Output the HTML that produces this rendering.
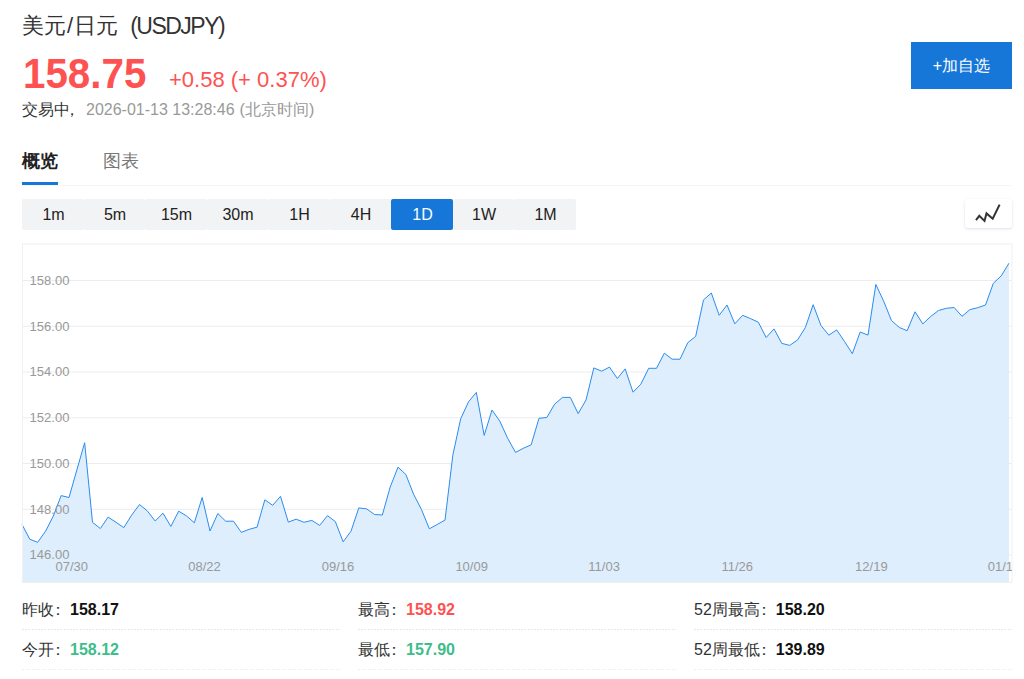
<!DOCTYPE html>
<html><head><meta charset="utf-8">
<style>
*{margin:0;padding:0;box-sizing:border-box}
html,body{width:1024px;height:679px;overflow:hidden;background:#fff}
body{font-family:"Liberation Sans",sans-serif;color:#333;position:relative}
.abs{position:absolute;white-space:nowrap}
#title{left:22px;top:9px;font-size:22px;color:#333;line-height:32px}
#title span{font-size:23px;letter-spacing:-1.5px;margin-left:12px;position:relative;top:1px}
#price{left:23px;top:51px;font-size:42px;font-weight:bold;color:#fe5252;line-height:46px;transform:scaleX(.96);transform-origin:0 0}
#chg{left:169px;top:65px;font-size:22px;color:#fe5252;line-height:30px}
#time{left:22px;top:99px;font-size:16px;color:#999;line-height:22px}
#time b{font-weight:normal;color:#333}
#btn{left:911px;top:42px;width:101px;height:47px;background:#1677d8;color:#fff;font-size:16px;line-height:47px;text-align:center}
#tab1{left:22px;top:149px;font-size:18px;font-weight:bold;color:#222;line-height:24px}
#tab2{left:103px;top:149px;font-size:18px;color:#777;line-height:24px}
#tabline{left:22px;top:182px;width:36px;height:3px;background:#1677d8}
#sep{left:22px;top:185px;width:990px;height:1px;background:#f6f6f6}
#bar{left:22px;top:199px;width:554px;height:31px}
.tb{position:absolute;top:0;height:31px;line-height:31px;font-size:16px;color:#222;text-align:center;width:61.5px;text-indent:1.5px;background:#f2f3f5;border-radius:2px}
.tb.on{background:#1677d8;color:#fff}
#icon{left:965px;top:199px;width:47px;height:29px;background:#fff;border-radius:3px;box-shadow:0 1px 3px rgba(40,70,140,.16)}
.st{position:absolute;font-size:16px;color:#333;line-height:20px;white-space:nowrap}
.st b{font-weight:bold;color:#111}
.c{font-style:normal;position:relative;left:-4px}
.cm{font-style:normal;position:relative;left:-6px}
.dash{position:absolute;height:1px;background:repeating-linear-gradient(90deg,#e8e8e8 0,#e8e8e8 2px,transparent 2px,transparent 3.2px)}
.dash.l{background:repeating-linear-gradient(90deg,#f0f0f0 0,#f0f0f0 2px,transparent 2px,transparent 3.2px)}
</style></head><body>
<div id="title" class="abs">美元<i style="font-style:normal;margin:0 1px">/</i>日元<span>(USDJPY)</span></div>
<div id="price" class="abs">158.75</div>
<div id="chg" class="abs">+0.58 (+ 0.37%)</div>
<div id="time" class="abs"><b>交易中<i class="cm">，</i></b>2026-01-13 13:28:46<span style="margin-left:5px">(北京时间)</span></div>
<div id="btn" class="abs">+加自选</div>
<div id="tab1" class="abs">概览</div>
<div id="tab2" class="abs">图表</div>
<div id="tabline" class="abs"></div>
<div id="sep" class="abs"></div>
<div id="bar" class="abs">
<div class="tb" style="left:0">1m</div>
<div class="tb" style="left:61.5px">5m</div>
<div class="tb" style="left:123px">15m</div>
<div class="tb" style="left:184.5px">30m</div>
<div class="tb" style="left:246px">1H</div>
<div class="tb" style="left:307.5px">4H</div>
<div class="tb on" style="left:369px">1D</div>
<div class="tb" style="left:430.5px">1W</div>
<div class="tb" style="left:492px">1M</div>
</div>
<div id="icon" class="abs"><svg width="47" height="29" viewBox="0 0 47 29" style="position:absolute;left:0;top:0"><polyline points="11,21.2 14.3,16.8 19.5,21.9 21.5,14.4 27.7,19.7 34.6,5.6" fill="none" stroke="#333" stroke-width="2" stroke-linejoin="miter"/></svg></div>
<svg class="abs" style="left:0;top:0" width="1024" height="679" viewBox="0 0 1024 679">
<defs><clipPath id="cp"><rect x="22" y="244" width="990" height="338"/></clipPath></defs>
<line x1="22" x2="1012" y1="280.50" y2="280.50" stroke="#ececec" stroke-width="1"/><line x1="22" x2="1012" y1="326.25" y2="326.25" stroke="#ececec" stroke-width="1"/><line x1="22" x2="1012" y1="372.00" y2="372.00" stroke="#ececec" stroke-width="1"/><line x1="22" x2="1012" y1="417.75" y2="417.75" stroke="#ececec" stroke-width="1"/><line x1="22" x2="1012" y1="463.50" y2="463.50" stroke="#ececec" stroke-width="1"/><line x1="22" x2="1012" y1="509.25" y2="509.25" stroke="#ececec" stroke-width="1"/><line x1="22" x2="1012" y1="555.00" y2="555.00" stroke="#ececec" stroke-width="1"/>
<polygon points="22.00,524.40 29.83,539.30 37.67,542.30 45.50,531.30 53.33,516.00 61.17,495.60 69.00,497.50 76.83,470.00 84.67,442.70 92.50,522.30 100.33,528.50 108.17,517.10 116.00,522.30 123.83,527.60 131.67,515.10 139.50,504.50 147.33,510.90 155.17,521.00 163.00,513.20 170.83,526.40 178.67,511.20 186.50,515.90 194.33,522.80 202.17,497.50 210.00,531.00 217.83,513.50 225.67,521.20 233.50,521.20 241.33,532.40 249.17,529.30 257.00,527.20 264.83,499.80 272.67,505.30 280.50,496.30 288.33,522.10 296.17,519.20 304.00,522.30 311.83,520.40 319.67,525.40 327.50,515.70 335.33,521.60 343.17,541.80 351.00,531.20 358.83,507.90 366.67,508.90 374.50,514.50 382.33,515.00 390.17,487.10 398.00,467.20 405.83,474.50 413.67,494.40 421.50,509.60 429.33,528.80 437.17,524.50 445.00,520.10 452.83,455.20 460.67,418.90 468.50,401.80 476.33,392.40 484.17,435.40 492.00,410.00 499.83,421.20 507.67,438.30 515.50,452.40 523.33,448.30 531.17,444.80 539.00,418.30 546.83,417.50 554.67,404.10 562.50,397.40 570.33,397.40 578.17,413.60 586.00,400.00 593.83,367.90 601.67,371.20 609.50,367.10 617.33,378.50 625.17,368.90 633.00,392.20 640.83,384.20 648.67,368.30 656.50,368.30 664.33,353.20 672.17,359.20 680.00,359.20 687.83,342.60 695.67,336.40 703.50,299.90 711.33,293.00 719.17,315.30 727.00,305.00 734.83,323.80 742.67,315.30 750.50,318.60 758.33,322.20 766.17,337.50 774.00,328.90 781.83,343.40 789.67,345.40 797.50,340.00 805.33,327.60 813.17,304.70 821.00,325.60 828.83,335.20 836.67,329.90 844.50,341.50 852.33,353.70 860.17,332.00 868.00,335.10 875.83,284.40 883.67,301.20 891.50,320.60 899.33,327.50 907.17,330.70 915.00,311.80 922.83,323.90 930.67,316.50 938.50,310.50 946.33,308.30 954.17,307.50 962.00,316.30 969.83,309.70 977.67,307.70 985.50,305.00 993.33,283.30 1001.17,275.90 1009.00,263.20 1009.00,582 22.00,582" fill="#deeefd"/>
<polyline points="22.00,524.40 29.83,539.30 37.67,542.30 45.50,531.30 53.33,516.00 61.17,495.60 69.00,497.50 76.83,470.00 84.67,442.70 92.50,522.30 100.33,528.50 108.17,517.10 116.00,522.30 123.83,527.60 131.67,515.10 139.50,504.50 147.33,510.90 155.17,521.00 163.00,513.20 170.83,526.40 178.67,511.20 186.50,515.90 194.33,522.80 202.17,497.50 210.00,531.00 217.83,513.50 225.67,521.20 233.50,521.20 241.33,532.40 249.17,529.30 257.00,527.20 264.83,499.80 272.67,505.30 280.50,496.30 288.33,522.10 296.17,519.20 304.00,522.30 311.83,520.40 319.67,525.40 327.50,515.70 335.33,521.60 343.17,541.80 351.00,531.20 358.83,507.90 366.67,508.90 374.50,514.50 382.33,515.00 390.17,487.10 398.00,467.20 405.83,474.50 413.67,494.40 421.50,509.60 429.33,528.80 437.17,524.50 445.00,520.10 452.83,455.20 460.67,418.90 468.50,401.80 476.33,392.40 484.17,435.40 492.00,410.00 499.83,421.20 507.67,438.30 515.50,452.40 523.33,448.30 531.17,444.80 539.00,418.30 546.83,417.50 554.67,404.10 562.50,397.40 570.33,397.40 578.17,413.60 586.00,400.00 593.83,367.90 601.67,371.20 609.50,367.10 617.33,378.50 625.17,368.90 633.00,392.20 640.83,384.20 648.67,368.30 656.50,368.30 664.33,353.20 672.17,359.20 680.00,359.20 687.83,342.60 695.67,336.40 703.50,299.90 711.33,293.00 719.17,315.30 727.00,305.00 734.83,323.80 742.67,315.30 750.50,318.60 758.33,322.20 766.17,337.50 774.00,328.90 781.83,343.40 789.67,345.40 797.50,340.00 805.33,327.60 813.17,304.70 821.00,325.60 828.83,335.20 836.67,329.90 844.50,341.50 852.33,353.70 860.17,332.00 868.00,335.10 875.83,284.40 883.67,301.20 891.50,320.60 899.33,327.50 907.17,330.70 915.00,311.80 922.83,323.90 930.67,316.50 938.50,310.50 946.33,308.30 954.17,307.50 962.00,316.30 969.83,309.70 977.67,307.70 985.50,305.00 993.33,283.30 1001.17,275.90 1009.00,263.20" fill="none" stroke="#2b8cef" stroke-width="1" stroke-linejoin="miter"/>
<rect x="22.5" y="244" width="989.5" height="338.5" fill="none" stroke="#f0f0f0" stroke-width="1"/>
<g clip-path="url(#cp)" font-family="Liberation Sans" font-size="13" fill="#999"><text x="29.6" y="284.90">158.00</text><text x="29.6" y="330.65">156.00</text><text x="29.6" y="376.40">154.00</text><text x="29.6" y="422.15">152.00</text><text x="29.6" y="467.90">150.00</text><text x="29.6" y="513.65">148.00</text><text x="29.6" y="559.40">146.00</text><text x="55.5" y="571">07/30</text><text x="188.3" y="571">08/22</text><text x="321.8" y="571">09/16</text><text x="455.4" y="571">10/09</text><text x="588.3" y="571">11/03</text><text x="721.5" y="571">11/26</text><text x="855.1" y="571">12/19</text><text x="987.7" y="571">01/13</text></g>
</svg>
<div class="st" style="left:22px;top:600px">昨收<i class="c">：</i><b>158.17</b></div>
<div class="st" style="left:358px;top:600px">最高<i class="c">：</i><b style="color:#fe5252">158.92</b></div>
<div class="st" style="left:694px;top:600px">52周最高<i class="c">：</i><b>158.20</b></div>
<div class="st" style="left:22px;top:640px">今开<i class="c">：</i><b style="color:#3dbd8c">158.12</b></div>
<div class="st" style="left:358px;top:640px">最低<i class="c">：</i><b style="color:#3dbd8c">157.90</b></div>
<div class="st" style="left:694px;top:640px">52周最低<i class="c">：</i><b>139.89</b></div>
<div class="dash" style="left:22px;top:629px;width:318px"></div>
<div class="dash" style="left:358px;top:629px;width:318px"></div>
<div class="dash" style="left:694px;top:629px;width:318px"></div>
<div class="dash l" style="left:22px;top:669px;width:318px"></div>
<div class="dash l" style="left:358px;top:669px;width:318px"></div>
<div class="dash l" style="left:694px;top:669px;width:318px"></div>
</body></html>
